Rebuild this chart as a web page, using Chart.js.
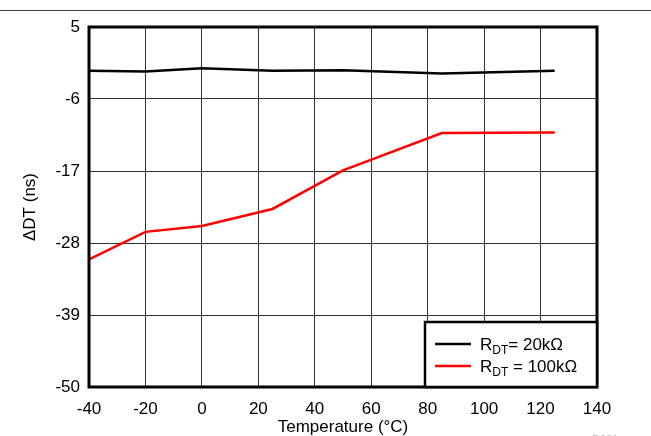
<!DOCTYPE html>
<html>
<head>
<meta charset="utf-8">
<script src="https://cdn.jsdelivr.net/npm/chart.js@4/dist/chart.umd.min.js"></script>
<style>
  html, body { margin: 0; padding: 0; background: #fff; }
  #wrap { width: 651px; height: 436px; }
</style>
</head>
<body>
<div id="wrap"><canvas id="myChart" width="651" height="436"></canvas></div>
<script>
// temperatures (°C) where the curves were measured
const temps = [-40, -20, 0, 25, 50, 85, 125];
// ΔDT in ns
const rdt20k = [-1.7, -1.8, -1.3, -1.7, -1.6, -2.1, -1.7];
const rdt100k = [-30.5, -26.3, -25.4, -22.8, -16.9, -11.2, -11.1];
const yTicks = [5, -6, -17, -28, -39, -50];
const xTicks = [-40, -20, 0, 20, 40, 60, 80, 100, 120, 140];

const legendItems = [
  { color: '#000000', main: 'R', sub: 'DT', rest: '= 20kΩ' },
  { color: '#ff0000', main: 'R', sub: 'DT', rest: ' = 100kΩ' },
];

const font = 'Liberation Sans, Arial, sans-serif';

const framePlugin = {
  id: 'frame',
  beforeDraw(chart) {
    const c = chart.ctx;
    c.save();
    c.strokeStyle = '#444';
    c.lineWidth = 1.2;
    c.beginPath();
    c.moveTo(0, 10.5);
    c.lineTo(chart.width, 10.5);
    c.stroke();
    c.restore();
  },
  afterDraw(chart) {
    const c = chart.ctx;
    const a = chart.chartArea;
    c.save();
    // plot border
    c.strokeStyle = '#000';
    c.lineWidth = 3;
    c.strokeRect(a.left, a.top, a.right - a.left, a.bottom - a.top);

    // legend box
    const bx = 425, by = 322, bw = a.right - 425, bh = a.bottom - 322;
    c.fillStyle = '#fff';
    c.fillRect(bx, by, bw, bh);
    c.lineWidth = 2.5;
    c.strokeRect(bx, by, bw, bh);
    legendItems.forEach((it, i) => {
      const y = 344 + i * 22;
      c.strokeStyle = it.color;
      c.lineWidth = 2.5;
      c.beginPath();
      c.moveTo(435, y);
      c.lineTo(471, y);
      c.stroke();
      c.fillStyle = '#000';
      c.textBaseline = 'alphabetic';
      c.font = '17px ' + font;
      let x = 480;
      c.fillText(it.main, x, y + 6);
      x += c.measureText(it.main).width;
      c.font = '12px ' + font;
      c.fillText(it.sub, x, y + 10);
      x += c.measureText(it.sub).width;
      c.font = '17px ' + font;
      c.fillText(it.rest, x, y + 6);
    });

    // figure id, cut off at bottom
    c.fillStyle = '#bbb';
    c.font = '11px ' + font;
    c.fillText('D001', 592, 443);
    c.restore();
  },
};

new Chart(document.getElementById('myChart').getContext('2d'), {
  type: 'line',
  data: {
    datasets: [
      {
        label: 'RDT= 20kΩ',
        data: temps.map((t, i) => ({ x: t, y: rdt20k[i] })),
        borderColor: '#000',
        borderWidth: 2.5,
        pointRadius: 0,
        tension: 0,
      },
      {
        label: 'RDT = 100kΩ',
        data: temps.map((t, i) => ({ x: t, y: rdt100k[i] })),
        borderColor: '#ff0000',
        borderWidth: 2.5,
        pointRadius: 0,
        tension: 0,
      },
    ],
  },
  options: {
    responsive: false,
    animation: false,
    layout: { padding: { left: 0, right: 54, top: 27, bottom: 0 } },
    plugins: { legend: { display: false }, tooltip: { enabled: false } },
    scales: {
      x: {
        type: 'linear',
        min: -40,
        max: 140,
        afterBuildTicks: (s) => { s.ticks = xTicks.map(v => ({ value: v })); },
        afterFit: (s) => { s.height = 49; },
        grid: { color: '#333', lineWidth: 1, drawTicks: false },
        border: { display: false },
        ticks: { color: '#000', font: { family: font, size: 17 }, padding: 12, maxRotation: 0 },
        title: {
          display: true,
          text: 'Temperature (°C)',
          color: '#000',
          font: { family: font, size: 17, lineHeight: 1.0 },
          padding: { top: 0, bottom: 0 },
        },
      },
      y: {
        min: -50,
        max: 5,
        afterBuildTicks: (s) => { s.ticks = yTicks.map(v => ({ value: v })); },
        afterFit: (s) => { s.width = 89; },
        grid: { color: '#333', lineWidth: 1, drawTicks: false },
        border: { display: false },
        ticks: { color: '#000', font: { family: font, size: 17 }, padding: 9 },
        title: {
          display: true,
          text: 'ΔDT (ns)',
          color: '#000',
          font: { family: font, size: 17, lineHeight: 1.0 },
          padding: { top: 22, bottom: 0 },
        },
      },
    },
  },
  plugins: [framePlugin],
});
</script>
</body>
</html>
